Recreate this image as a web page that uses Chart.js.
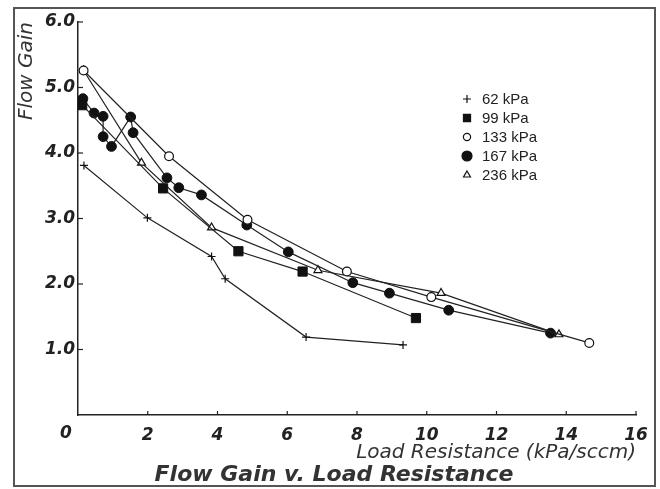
<!DOCTYPE html>
<html><head><meta charset="utf-8">
<script src="https://cdn.jsdelivr.net/npm/chart.js@4/dist/chart.umd.min.js"></script>
<style>html,body{margin:0;padding:0;background:#fff}</style>
</head><body>
<canvas id="c" width="660" height="489"></canvas>
<script>
// ---- data ----
const seriesLabels = ['62 kPa', '99 kPa', '133 kPa', '167 kPa', '236 kPa'];
const x62  = [0.17, 1.99, 3.83, 4.22, 6.54, 9.32];
const y62  = [3.81, 3.01, 2.42, 2.08, 1.19, 1.07];
const x99  = [0.12, 2.44, 4.60, 6.44, 9.69];
const y99  = [4.73, 3.46, 2.50, 2.19, 1.48];
const x133 = [0.16, 2.61, 4.86, 7.71, 10.13, 14.66];
const y133 = [5.26, 3.95, 2.98, 2.19, 1.80, 1.10];
const x167 = [0.14, 0.46, 0.72, 0.72, 0.96, 1.51, 1.58, 2.55, 2.89, 3.54, 4.84, 6.03, 7.88, 8.93, 10.63, 13.55];
const y167 = [4.83, 4.61, 4.56, 4.25, 4.10, 4.55, 4.31, 3.62, 3.47, 3.36, 2.90, 2.49, 2.02, 1.86, 1.60, 1.25];
const x236 = [0.16, 1.82, 3.83, 6.88, 10.41, 13.79];
const y236 = [5.26, 3.85, 2.86, 2.21, 1.86, 1.23];
const xTickValues = [0, 2, 4, 6, 8, 10, 12, 14, 16];
const xTickLabels = ['0', '2', '4', '6', '8', '10', '12', '14', '16'];
const yTickValues = [1, 2, 3, 4, 5, 6];
const yTickLabels = ['1.0', '2.0', '3.0', '4.0', '5.0', '6.0'];

const pts = (xs, ys) => xs.map((x, i) => ({x: x, y: ys[i]}));

const styles = [
  {pointStyle: 'cross', radius: 4, bg: '#111', border: '#111', bw: 1.2, legR: 4},
  {pointStyle: 'rect', radius: 6.5, bg: '#111', border: '#111', bw: 1, legR: 5},
  {pointStyle: 'circle', radius: 4.4, bg: '#fff', border: '#111', bw: 1.2, legR: 3.6},
  {pointStyle: 'circle', radius: 4.9, bg: '#111', border: '#111', bw: 1, legR: 5},
  {pointStyle: 'triangle', radius: 4.6, bg: '#fff', border: '#111', bw: 1.2, legR: 4}
];
const allData = [pts(x62, y62), pts(x99, y99), pts(x133, y133), pts(x167, y167), pts(x236, y236)];

const datasets = allData.map((d, i) => ({
  label: seriesLabels[i],
  data: d,
  showLine: true,
  borderColor: '#222',
  borderWidth: 1.2,
  pointStyle: styles[i].pointStyle,
  pointRadius: styles[i].radius,
  pointBackgroundColor: styles[i].bg,
  pointBorderColor: styles[i].border,
  pointBorderWidth: styles[i].bw,
  tension: 0
}));

const deco = {
  id: 'deco',
  beforeDraw(chart) {
    const ctx = chart.ctx;
    ctx.save();
    ctx.fillStyle = '#fff';
    ctx.fillRect(0, 0, chart.width, chart.height);
    ctx.strokeStyle = '#555';
    ctx.lineWidth = 2;
    ctx.strokeRect(14, 8, 641, 478);
    ctx.restore();
  },
  afterDraw(chart) {
    const ctx = chart.ctx;
    const xs = chart.scales.x, ys = chart.scales.y, ca = chart.chartArea;
    ctx.save();
    ctx.strokeStyle = '#222';
    ctx.lineWidth = 1.2;
    yTickValues.forEach(v => {
      const py = ys.getPixelForValue(v);
      ctx.beginPath(); ctx.moveTo(ca.left, py); ctx.lineTo(ca.left + 5, py); ctx.stroke();
    });
    xTickValues.forEach(v => {
      if (v === 0) return;
      const px = xs.getPixelForValue(v);
      ctx.beginPath(); ctx.moveTo(px, ca.bottom); ctx.lineTo(px, ca.bottom - 4); ctx.stroke();
    });
    // origin label drawn slightly left of the axis, as in the reference
    ctx.fillStyle = '#222';
    ctx.font = 'italic bold 17px "DejaVu Sans"';
    ctx.textAlign = 'center';
    ctx.textBaseline = 'middle';
    ctx.fillText(xTickLabels[0], xs.getPixelForValue(0) - 12, ca.bottom + 19);
    // legend inside the plot
    const lx = 467, tx = 482, ly0 = 99, dy = 19;
    ctx.font = '15px "Liberation Sans"';
    ctx.textAlign = 'left';
    chart.data.datasets.forEach((ds, i) => {
      const y = ly0 + i * dy;
      ctx.fillStyle = styles[i].bg;
      ctx.strokeStyle = styles[i].border;
      ctx.lineWidth = 1.2;
      Chart.helpers.drawPoint(ctx, {pointStyle: styles[i].pointStyle, radius: styles[i].legR, borderWidth: 1.2, rotation: 0}, lx, y);
      ctx.fillStyle = '#222';
      ctx.fillText(ds.label, tx, y + 1);
    });
    ctx.restore();
  }
};

new Chart(document.getElementById('c'), {
  type: 'scatter',
  data: {datasets: datasets},
  plugins: [deco],
  options: {
    responsive: false,
    animation: false,
    devicePixelRatio: 1,
    layout: {padding: {left: 32, right: 24, top: 22, bottom: 0}},
    plugins: {
      legend: {display: false},
      tooltip: {enabled: false},
      title: {
        display: true,
        position: 'bottom',
        text: 'Flow Gain v. Load Resistance',
        color: '#333',
        font: {family: '"DejaVu Sans"', size: 22, style: 'italic', weight: 'bold'},
        padding: {top: 0, bottom: 1}
      }
    },
    scales: {
      x: {
        type: 'linear', min: 0, max: 16,
        afterFit: s => { s.height = 46.6; },
        afterBuildTicks: s => { s.ticks = xTickValues.map(v => ({value: v})); },
        ticks: {
          callback: (v) => { const i = xTickValues.indexOf(v); return i > 0 ? xTickLabels[i] : ''; },
          color: '#222', padding: 10, maxRotation: 0, autoSkip: false,
          font: {family: '"DejaVu Sans"', size: 17, style: 'italic', weight: 'bold'}
        },
        grid: {display: true, drawOnChartArea: false, drawTicks: false, color: 'rgba(0,0,0,0)'},
        border: {display: true, color: '#222', width: 1.5},
        title: {
          display: true, align: 'end', text: 'Load Resistance (kPa/sccm)', color: '#333',
          font: {family: '"DejaVu Sans"', size: 20, style: 'italic'},
          padding: {top: 0, bottom: -3}
        }
      },
      y: {
        type: 'linear', min: 0, max: 6,
        afterFit: s => { s.width = 46; },
        afterBuildTicks: s => { s.ticks = [0].concat(yTickValues).map(v => ({value: v})); },
        ticks: {
          callback: (v) => { const i = yTickValues.indexOf(v); return i >= 0 ? yTickLabels[i] : ''; },
          color: '#222', padding: 3, autoSkip: false,
          font: {family: '"DejaVu Sans"', size: 17, style: 'italic', weight: 'bold'}
        },
        grid: {display: true, drawOnChartArea: false, drawTicks: false, color: 'rgba(0,0,0,0)'},
        border: {display: true, color: '#222', width: 1.5},
        title: {
          display: true, align: 'end', text: 'Flow Gain', color: '#333',
          font: {family: '"DejaVu Sans"', size: 20, style: 'italic'},
          padding: {top: -17, bottom: 0}
        }
      }
    }
  }
});
</script>
</body></html>
